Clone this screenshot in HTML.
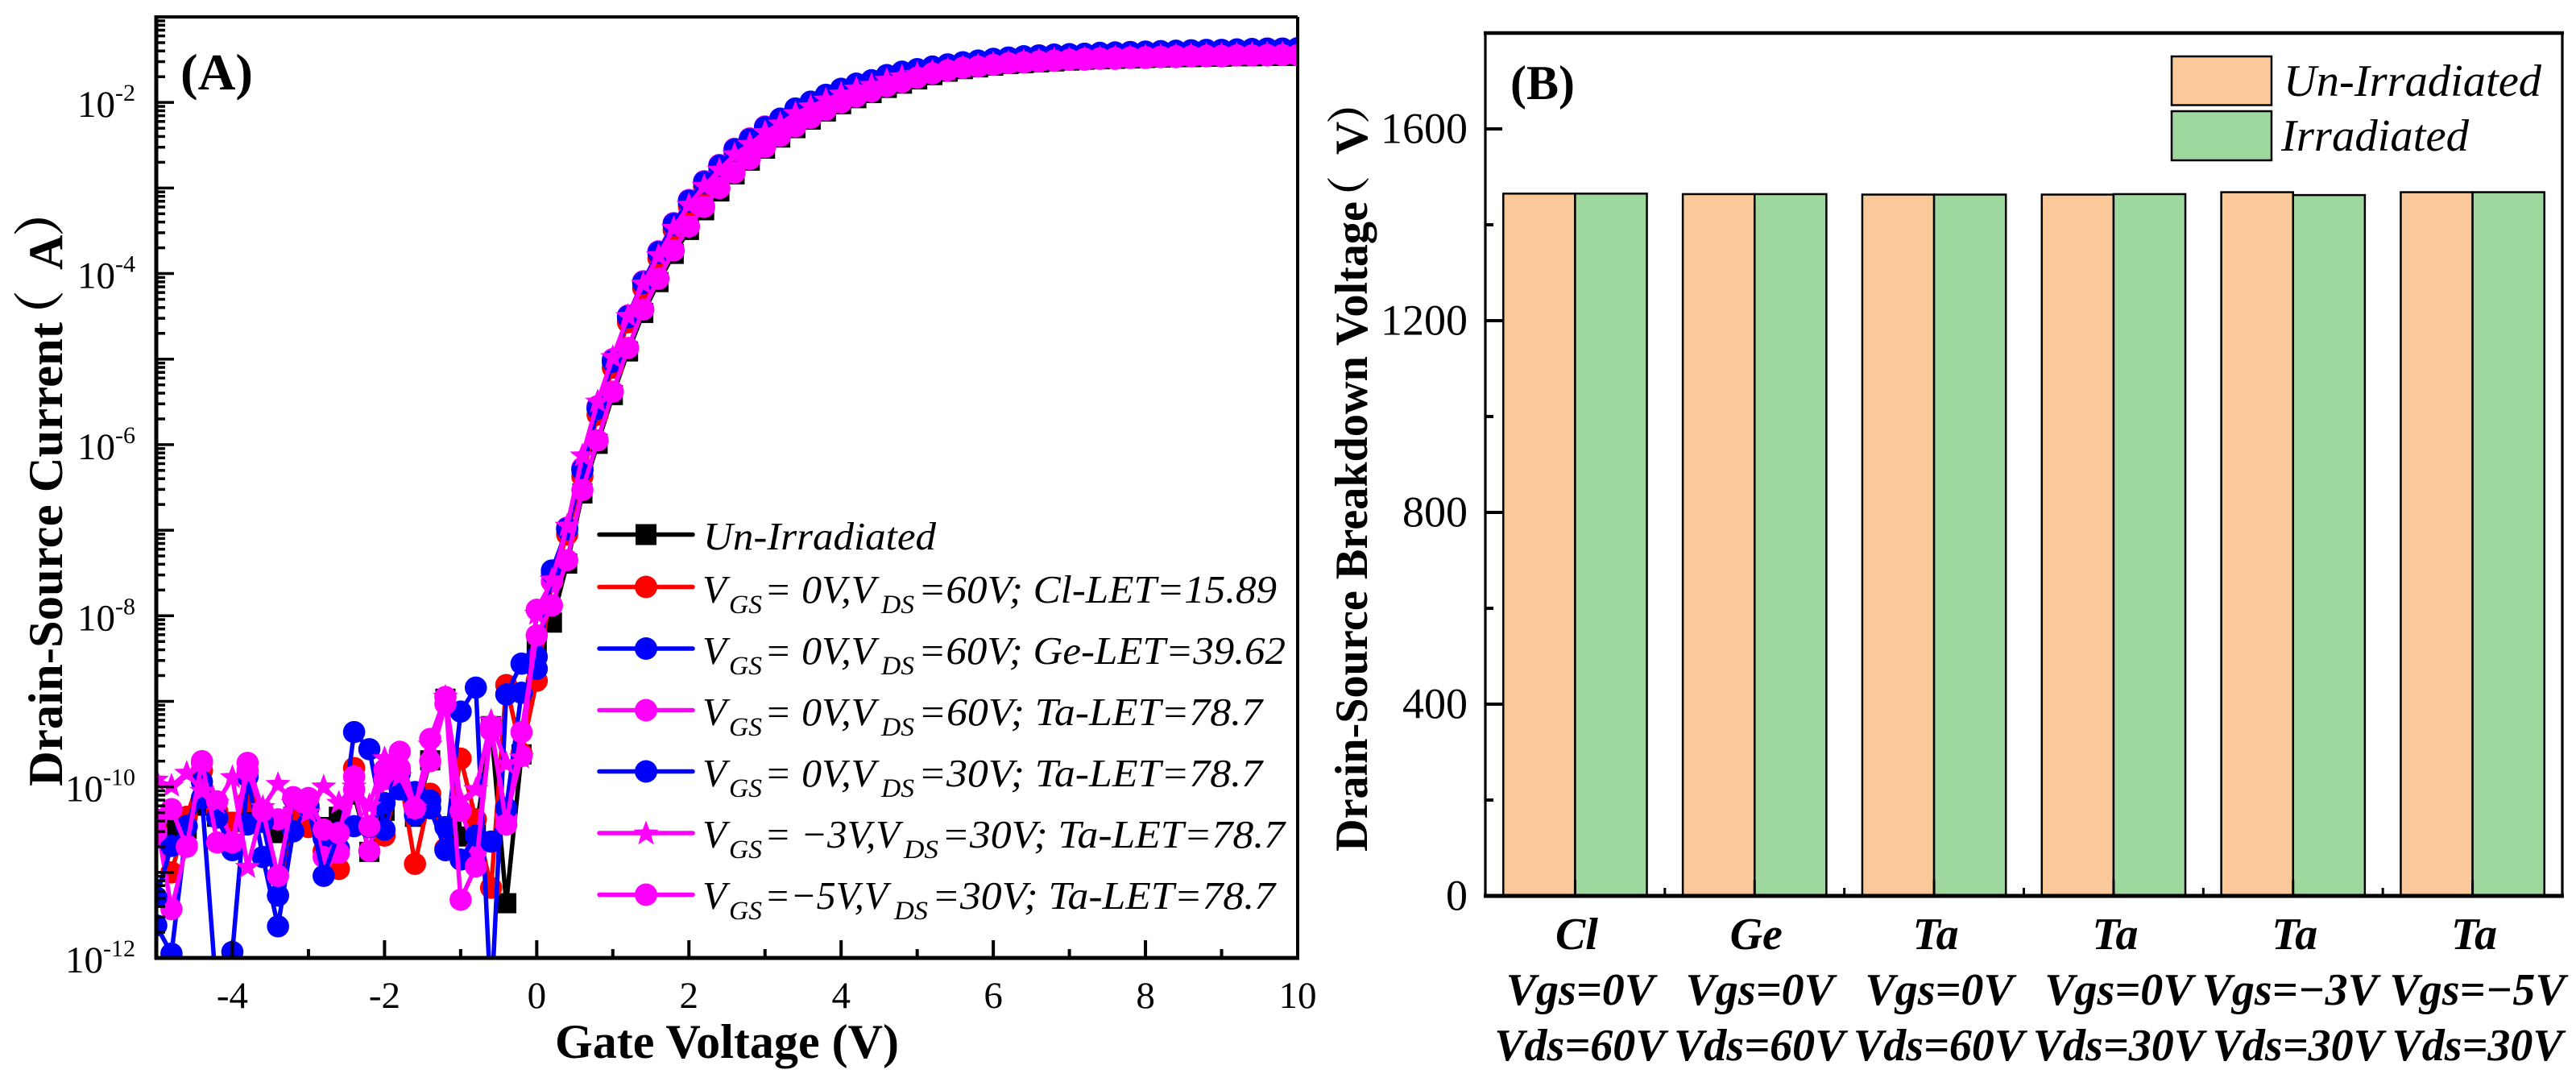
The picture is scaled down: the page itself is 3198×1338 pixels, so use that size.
<!DOCTYPE html>
<html lang="en">
<head>
<meta charset="utf-8">
<title>Drain-source current and breakdown voltage</title>
<style>
html,body{margin:0;padding:0;background:#fff}
svg{display:block}
text{font-family:"Liberation Serif","Noto Serif CJK SC",serif;fill:#000}
.tick{font-size:47px}
.ti{font-weight:bold}
.lg{font-size:49px;font-style:italic}
.sb{font-size:33px;font-style:italic}
.cat{font-size:56px;font-weight:bold;font-style:italic;text-anchor:middle}
</style>
</head>
<body>
<svg id="fig" xmlns="http://www.w3.org/2000/svg" width="3198" height="1338" viewBox="0 0 3198 1338">
<rect width="3198" height="1338" fill="#fff"/>
<defs><clipPath id="clipA"><rect x="194" y="21" width="1417" height="1168"/></clipPath></defs>

<g id="panelA">
  <g id="marksA" clip-path="url(#clipA)"></g>
  <g id="axesA"></g>
  <text class="ti" x="224" y="111" font-size="64" textLength="90" lengthAdjust="spacingAndGlyphs">(A)</text>
  <text class="ti" x="689" y="1313" font-size="60" textLength="427" lengthAdjust="spacingAndGlyphs">Gate Voltage (V)</text>
  <g>
    <text class="ti" font-size="60" transform="translate(77 976) rotate(-90)" textLength="576" lengthAdjust="spacingAndGlyphs">Drain-Source Current</text>
    <text class="ti" font-size="64" transform="translate(72 424) rotate(-90)">（</text>
    <text class="ti" font-size="60" transform="translate(77 335) rotate(-90)">A</text>
    <text class="ti" font-size="64" transform="translate(72 294) rotate(-90)">）</text>
  </g>

  <g id="legendA">
    <g>
      <line x1="744" x2="860" y1="663.5" y2="663.5" stroke="#000" stroke-width="5.5" stroke-linecap="round"/>
      <rect x="789" y="650.5" width="26" height="26" fill="#000"/>
      <text class="lg" x="873" y="682" textLength="289" lengthAdjust="spacingAndGlyphs">Un-Irradiated</text>
    </g>
    <g>
      <line x1="744" x2="860" y1="728.5" y2="728.5" stroke="#f00" stroke-width="5.5" stroke-linecap="round"/>
      <circle cx="802" cy="728.5" r="14" fill="#f00"/>
      <text class="lg" x="872" y="748">V</text><text class="sb" x="905" y="761" textLength="41" lengthAdjust="spacingAndGlyphs">GS</text>
      <text class="lg" x="949" y="748" textLength="138" lengthAdjust="spacingAndGlyphs">= 0V,V</text><text class="sb" x="1094" y="761" textLength="41" lengthAdjust="spacingAndGlyphs">DS</text>
      <text class="lg" x="1140" y="748" textLength="445" lengthAdjust="spacingAndGlyphs">=60V; Cl-LET=15.89</text>
    </g>
    <g>
      <line x1="744" x2="860" y1="805" y2="805" stroke="#00f" stroke-width="5.5" stroke-linecap="round"/>
      <circle cx="802" cy="805" r="14" fill="#00f"/>
      <text class="lg" x="872" y="824">V</text><text class="sb" x="905" y="837" textLength="41" lengthAdjust="spacingAndGlyphs">GS</text>
      <text class="lg" x="949" y="824" textLength="138" lengthAdjust="spacingAndGlyphs">= 0V,V</text><text class="sb" x="1094" y="837" textLength="41" lengthAdjust="spacingAndGlyphs">DS</text>
      <text class="lg" x="1140" y="824" textLength="456" lengthAdjust="spacingAndGlyphs">=60V; Ge-LET=39.62</text>
    </g>
    <g>
      <line x1="744" x2="860" y1="881.5" y2="881.5" stroke="#f0f" stroke-width="5.5" stroke-linecap="round"/>
      <circle cx="802" cy="881.5" r="14" fill="#f0f"/>
      <text class="lg" x="872" y="900">V</text><text class="sb" x="905" y="913" textLength="41" lengthAdjust="spacingAndGlyphs">GS</text>
      <text class="lg" x="949" y="900" textLength="138" lengthAdjust="spacingAndGlyphs">= 0V,V</text><text class="sb" x="1094" y="913" textLength="41" lengthAdjust="spacingAndGlyphs">DS</text>
      <text class="lg" x="1140" y="900" textLength="427" lengthAdjust="spacingAndGlyphs">=60V; Ta-LET=78.7</text>
    </g>
    <g>
      <line x1="744" x2="860" y1="957.5" y2="957.5" stroke="#00f" stroke-width="5.5" stroke-linecap="round"/>
      <circle cx="802" cy="957.5" r="14" fill="#00f"/>
      <text class="lg" x="872" y="976">V</text><text class="sb" x="905" y="989" textLength="41" lengthAdjust="spacingAndGlyphs">GS</text>
      <text class="lg" x="949" y="976" textLength="138" lengthAdjust="spacingAndGlyphs">= 0V,V</text><text class="sb" x="1094" y="989" textLength="41" lengthAdjust="spacingAndGlyphs">DS</text>
      <text class="lg" x="1140" y="976" textLength="427" lengthAdjust="spacingAndGlyphs">=30V; Ta-LET=78.7</text>
    </g>
    <g>
      <line x1="744" x2="860" y1="1034" y2="1034" stroke="#f0f" stroke-width="5.5" stroke-linecap="round"/>
      <polygon id="legendStar" fill="#f0f"/>
      <text class="lg" x="872" y="1052">V</text><text class="sb" x="905" y="1065" textLength="41" lengthAdjust="spacingAndGlyphs">GS</text>
      <text class="lg" x="949" y="1052" textLength="168" lengthAdjust="spacingAndGlyphs">= −3V,V</text><text class="sb" x="1122" y="1065" textLength="43" lengthAdjust="spacingAndGlyphs">DS</text>
      <text class="lg" x="1169" y="1052" textLength="426" lengthAdjust="spacingAndGlyphs">=30V; Ta-LET=78.7</text>
    </g>
    <g>
      <line x1="744" x2="860" y1="1110.5" y2="1110.5" stroke="#f0f" stroke-width="5.5" stroke-linecap="round"/>
      <circle cx="802" cy="1110.5" r="14" fill="#f0f"/>
      <text class="lg" x="872" y="1128">V</text><text class="sb" x="905" y="1141" textLength="41" lengthAdjust="spacingAndGlyphs">GS</text>
      <text class="lg" x="949" y="1128" textLength="153" lengthAdjust="spacingAndGlyphs">=−5V,V</text><text class="sb" x="1110" y="1141" textLength="42" lengthAdjust="spacingAndGlyphs">DS</text>
      <text class="lg" x="1157" y="1128" textLength="426" lengthAdjust="spacingAndGlyphs">=30V; Ta-LET=78.7</text>
    </g>
  </g>
</g>

<g id="panelB">
  <g id="marksB"></g>
  <g id="axesB"></g>
  <text class="ti" x="1875" y="123" font-size="60" textLength="80" lengthAdjust="spacingAndGlyphs">(B)</text>
  <g>
    <text class="ti" font-size="57" transform="translate(1697 1057) rotate(-90)" textLength="807" lengthAdjust="spacingAndGlyphs">Drain-Source Breakdown Voltage</text>
    <text class="ti" font-size="54" transform="translate(1694 272) rotate(-90)">（</text>
    <text class="ti" font-size="57" transform="translate(1697 192) rotate(-90)">V</text>
    <text class="ti" font-size="54" transform="translate(1694 154) rotate(-90)">）</text>
  </g>
  <g>
    <g>
      <rect x="2696" y="70" width="124" height="60.5" fill="#FBC999" stroke="#000" stroke-width="2.5"/>
      <text x="2835" y="119" font-size="56" font-style="italic" textLength="320" lengthAdjust="spacingAndGlyphs">Un-Irradiated</text>
    </g>
    <g>
      <rect x="2696" y="138" width="124" height="61" fill="#9FD89F" stroke="#000" stroke-width="2.5"/>
      <text x="2832" y="187" font-size="56" font-style="italic" textLength="233" lengthAdjust="spacingAndGlyphs">Irradiated</text>
    </g>
  </g>
</g>
</svg>

<script>
/* Panel A data: x = gate voltage (V), series = log10 of drain-source current (A) */
const gateVoltage = [-5,-4.8,-4.6,-4.4,-4.2,-4,-3.8,-3.6,-3.4,-3.2,-3,-2.8,-2.6,-2.4,-2.2,-2,-1.8,-1.6,-1.4,-1.2,-1,-0.8,-0.6,-0.4,-0.2,0,0.2,0.4,0.6,0.8,1,1.2,1.4,1.6,1.8,2,2.2,2.4,2.6,2.8,3,3.2,3.4,3.6,3.8,4,4.2,4.4,4.6,4.8,5,5.2,5.4,5.6,5.8,6,6.2,6.4,6.6,6.8,7,7.2,7.4,7.6,7.8,8,8.2,8.4,8.6,8.8,9,9.2,9.4,9.6,9.8,10];
const unIrradiated = [-10.50,-10.47,-10.49,-10.22,-10.35,-10.41,-10.28,-10.38,-10.54,-10.35,-10.38,-10.47,-10.35,-10.09,-10.76,-10.28,-10.03,-10.35,-9.69,-8.97,-10.58,-10.53,-9.29,-11.36,-9.62,-8.34,-8.08,-7.39,-6.57,-5.99,-5.42,-4.91,-4.46,-4.10,-3.77,-3.49,-3.26,-3.04,-2.84,-2.68,-2.54,-2.41,-2.30,-2.20,-2.105,-2.02,-1.95,-1.89,-1.83,-1.78,-1.73,-1.68,-1.64,-1.61,-1.59,-1.57,-1.55,-1.54,-1.53,-1.52,-1.51,-1.50,-1.495,-1.49,-1.485,-1.48,-1.475,-1.47,-1.47,-1.465,-1.465,-1.46,-1.46,-1.455,-1.455,-1.455];
const clLet60V = [-10.50,-11.00,-10.35,-9.81,-10.28,-10.42,-10.17,-10.35,-11.27,-10.35,-10.47,-10.75,-10.96,-9.78,-10.47,-10.57,-9.84,-10.90,-10.08,-10.72,-9.67,-10.38,-11.18,-8.81,-9.61,-8.76,-7.60,-7.05,-6.37,-5.65,-5.10,-4.57,-4.17,-3.82,-3.49,-3.21,-2.99,-2.80,-2.61,-2.49,-2.35,-2.25,-2.13,-2.05,-1.97,-1.90,-1.84,-1.80,-1.74,-1.70,-1.67,-1.63,-1.60,-1.58,-1.56,-1.54,-1.52,-1.51,-1.50,-1.49,-1.48,-1.48,-1.47,-1.46,-1.46,-1.45,-1.45,-1.44,-1.44,-1.43,-1.43,-1.43,-1.42,-1.42,-1.42,-1.41];
const geLet60V = [-11.62,-11.95,-10.46,-10.13,-12.51,-11.93,-9.88,-10.82,-11.63,-10.52,-10.22,-10.60,-10.72,-9.36,-9.56,-10.50,-9.84,-10.06,-10.25,-10.74,-9.12,-8.84,-12.57,-8.92,-8.56,-8.48,-7.47,-6.99,-6.30,-5.58,-5.03,-4.51,-4.11,-3.76,-3.43,-3.16,-2.94,-2.75,-2.56,-2.44,-2.30,-2.20,-2.08,-2.00,-1.92,-1.85,-1.79,-1.75,-1.69,-1.65,-1.62,-1.59,-1.565,-1.54,-1.52,-1.50,-1.485,-1.47,-1.46,-1.45,-1.445,-1.44,-1.43,-1.425,-1.42,-1.415,-1.41,-1.405,-1.40,-1.395,-1.395,-1.39,-1.385,-1.38,-1.38,-1.375];
const taLet60V = [-10.38,-11.43,-10.68,-9.72,-10.17,-10.66,-9.81,-10.30,-10.38,-10.13,-10.25,-10.82,-10.77,-10.03,-10.75,-9.91,-9.78,-10.24,-9.70,-9.03,-10.28,-10.75,-9.34,-10.35,-9.64,-7.93,-7.60,-6.97,-6.27,-5.55,-5.00,-4.49,-4.09,-3.74,-3.41,-3.14,-2.92,-2.73,-2.54,-2.42,-2.28,-2.19,-2.08,-2.00,-1.93,-1.87,-1.81,-1.78,-1.72,-1.69,-1.66,-1.63,-1.61,-1.59,-1.57,-1.55,-1.54,-1.53,-1.52,-1.51,-1.50,-1.50,-1.49,-1.49,-1.48,-1.48,-1.47,-1.47,-1.46,-1.46,-1.46,-1.45,-1.45,-1.45,-1.44,-1.44];
const taLet30V = [-11.29,-10.69,-10.46,-9.94,-10.36,-10.74,-10.44,-10.41,-11.27,-10.13,-10.24,-11.04,-10.53,-10.46,-10.47,-10.19,-10.03,-10.33,-10.16,-10.47,-10.85,-10.57,-10.64,-10.25,-8.90,-8.62,-7.50,-6.98,-6.29,-5.57,-5.02,-4.50,-4.10,-3.75,-3.42,-3.15,-2.93,-2.74,-2.55,-2.43,-2.29,-2.19,-2.07,-1.99,-1.91,-1.84,-1.78,-1.74,-1.68,-1.64,-1.61,-1.58,-1.555,-1.53,-1.51,-1.49,-1.475,-1.46,-1.45,-1.44,-1.435,-1.43,-1.42,-1.415,-1.41,-1.405,-1.40,-1.395,-1.39,-1.385,-1.385,-1.38,-1.375,-1.37,-1.37,-1.365];
const taLetMinus3V = [-9.92,-9.99,-9.84,-10.05,-10.19,-9.89,-10.94,-10.24,-9.97,-10.19,-10.30,-10.00,-10.19,-10.00,-10.22,-9.67,-9.88,-10.25,-9.51,-8.95,-10.16,-10.03,-9.23,-9.73,-9.66,-7.98,-7.58,-6.95,-6.13,-5.50,-4.98,-4.50,-4.12,-3.79,-3.47,-3.20,-2.98,-2.79,-2.61,-2.49,-2.35,-2.25,-2.13,-2.05,-1.97,-1.90,-1.84,-1.80,-1.74,-1.70,-1.67,-1.64,-1.62,-1.59,-1.57,-1.55,-1.535,-1.52,-1.51,-1.50,-1.495,-1.49,-1.48,-1.475,-1.47,-1.465,-1.46,-1.455,-1.45,-1.445,-1.445,-1.44,-1.435,-1.43,-1.43,-1.425];
const taLetMinus5V = [-10.53,-10.26,-10.70,-9.70,-10.65,-10.65,-9.72,-10.28,-11.04,-10.12,-10.13,-10.50,-10.54,-9.88,-10.46,-9.80,-9.59,-10.25,-9.44,-8.95,-11.32,-10.93,-9.29,-10.44,-9.36,-8.23,-7.88,-7.35,-6.53,-5.95,-5.38,-4.87,-4.42,-4.06,-3.73,-3.45,-3.22,-3.00,-2.82,-2.66,-2.52,-2.39,-2.28,-2.18,-2.085,-2.00,-1.93,-1.87,-1.81,-1.76,-1.71,-1.66,-1.625,-1.595,-1.58,-1.56,-1.54,-1.53,-1.52,-1.51,-1.50,-1.49,-1.485,-1.48,-1.475,-1.47,-1.465,-1.46,-1.46,-1.455,-1.455,-1.45,-1.45,-1.445,-1.445,-1.445];

const xTickValues = [-5,-4,-3,-2,-1,0,1,2,3,4,5,6,7,8,9,10];
const xTickLabels = ["","-4","","-2","","0","","2","","4","","6","","8","","10"];
const yDecades = [-12,-11,-10,-9,-8,-7,-6,-5,-4,-3,-2,-1];
const yDecadeLabels = ["-12","","-10","","-8","","-6","","-4","","-2",""];
const yMinorFactors = [2,3,4,5,6,7,8,9];

/* Panel B data */
const categoriesIon = ["Cl","Ge","Ta","Ta","Ta","Ta"];
const categoriesVgs = ["Vgs=0V","Vgs=0V","Vgs=0V","Vgs=0V","Vgs=−3V","Vgs=−5V"];
const categoriesVds = ["Vds=60V","Vds=60V","Vds=60V","Vds=30V","Vds=30V","Vds=30V"];
const unIrradiatedBreakdown = [1465,1464,1463,1463,1468,1468];
const irradiatedBreakdown = [1465,1464,1463,1464,1462,1468];
const bTickValues = [0,400,800,1200,1600];
const bMinorValues = [200,600,1000,1400,1800];

const NS = "http://www.w3.org/2000/svg";
function mk(tag, parent, attrs, txt){
  const e = document.createElementNS(NS, tag);
  for (const k in attrs) e.setAttribute(k, attrs[k]);
  if (txt !== undefined) e.textContent = txt;
  parent.appendChild(e);
  return e;
}

/* Panel A scales */
const ax = {l:194, r:1611, t:21, b:1189};
function xA(v){ return ax.l + (v + 5) / 15 * (ax.r - ax.l); }
function yA(lg){ return ax.b - (lg + 12) / 11 * (ax.b - ax.t); }

function starPoints(cx, cy, R){
  const p = [], r = R * 0.42;
  for (let k = 0; k < 10; k++){
    const a = -Math.PI / 2 + k * Math.PI / 5, q = k % 2 ? r : R;
    p.push((cx + q * Math.cos(a)).toFixed(1) + "," + (cy + q * Math.sin(a)).toFixed(1));
  }
  return p.join(" ");
}
document.getElementById("legendStar").setAttribute("points", starPoints(802, 1035, 16.5));

const seriesList = [
  {name:"un-irradiated", vals:unIrradiated, color:"#000", marker:"square"},
  {name:"cl-let-60v", vals:clLet60V, color:"#f00", marker:"circle"},
  {name:"ge-let-60v", vals:geLet60V, color:"#00f", marker:"circle"},
  {name:"ta-let-60v", vals:taLet60V, color:"#f0f", marker:"circle"},
  {name:"ta-let-30v", vals:taLet30V, color:"#00f", marker:"circle"},
  {name:"ta-let-minus-3v", vals:taLetMinus3V, color:"#f0f", marker:"star"},
  {name:"ta-let-minus-5v", vals:taLetMinus5V, color:"#f0f", marker:"circle"}
];
const marksA = document.getElementById("marksA");
seriesList.forEach(function(s){
  const g = mk("g", marksA, {});
  
  
  const pts = s.vals.map(function(v, i){ return xA(gateVoltage[i]).toFixed(1) + "," + yA(v).toFixed(1); }).join(" ");
  const line = mk("polyline", g, {points:pts, fill:"none", stroke:s.color, "stroke-width":5.5, "stroke-linejoin":"round"});
  
  
  s.vals.forEach(function(v, i){
    const cx = xA(gateVoltage[i]), cy = yA(v);
    let m;
    if (s.marker === "square") m = mk("rect", g, {x:cx - 12.5, y:cy - 12.5, width:25, height:25, fill:s.color});
    else if (s.marker === "star") m = mk("polygon", g, {points:starPoints(cx, cy, 16.5), fill:s.color});
    else m = mk("circle", g, {cx:cx, cy:cy, r:13.8, fill:s.color});
    
    
  });
});

/* Panel A axes */
const axesA = document.getElementById("axesA");
xTickValues.forEach(function(v, i){
  const major = i % 2 === 1 || v === 10;
  const t = mk("line", axesA, {x1:xA(v), x2:xA(v), y1:ax.b, y2:ax.b - (major ? 22 : 11), stroke:"#000", "stroke-width":4});
  
  
  if (xTickLabels[i]){
    const l = mk("text", axesA, {x:xA(v), y:1251, class:"tick", "text-anchor":"middle"}, xTickLabels[i]);
    
    
  }
});
yDecades.forEach(function(d, i){
  const y = yA(d);
  const t = mk("line", axesA, {x1:ax.l, x2:ax.l + 22, y1:y, y2:y, stroke:"#000", "stroke-width":3.5});
  
  
  if (d < -1) yMinorFactors.forEach(function(f){
    const ym = yA(d + Math.log10(f));
    const mt = mk("line", axesA, {x1:ax.l, x2:ax.l + 11, y1:ym, y2:ym, stroke:"#000", "stroke-width":3.5});
    
    
  });
  if (yDecadeLabels[i]){
    const l = mk("text", axesA, {x:168, y:y + 18, class:"tick", "text-anchor":"end"});
    
    
    mk("tspan", l, {}, "10");
    mk("tspan", l, {dy:-20, "font-size":30}, yDecadeLabels[i]);
  }
});
const frameA = mk("path", axesA, {d:"M192 21H1611M1611 21V1189", fill:"none", stroke:"#000", "stroke-width":4});


const axisAL = mk("line", axesA, {x1:194, x2:194, y1:19, y2:1191, stroke:"#000", "stroke-width":5});


const axisAB = mk("line", axesA, {x1:192, x2:1613, y1:1189, y2:1189, stroke:"#000", "stroke-width":5});



/* Panel B scales */
const bx = {l:1844, r:3181, t:41, b:1112};
const catW = (bx.r - bx.l) / categoriesIon.length;
const barW = catW * 0.4;
function xB(i){ return bx.l + catW * (i + 0.5); }
function yB(v){ return bx.b - v / 1800 * (bx.b - bx.t); }

const marksB = document.getElementById("marksB");
categoriesIon.forEach(function(c, i){
  const a = mk("rect", marksB, {x:xB(i) - barW, y:yB(unIrradiatedBreakdown[i]), width:barW, height:bx.b - yB(unIrradiatedBreakdown[i]), fill:"#FBC999", stroke:"#000", "stroke-width":2.5});
  
  
  const b = mk("rect", marksB, {x:xB(i), y:yB(irradiatedBreakdown[i]), width:barW, height:bx.b - yB(irradiatedBreakdown[i]), fill:"#9FD89F", stroke:"#000", "stroke-width":2.5});
  
  
});

const axesB = document.getElementById("axesB");
categoriesIon.forEach(function(c, i){
  const x = xB(i);
  const t = mk("line", axesB, {x1:x, x2:x, y1:bx.b, y2:bx.b - 20, stroke:"#000", "stroke-width":3});
  
  
  if (i > 0){
    const mt = mk("line", axesB, {x1:x - catW / 2, x2:x - catW / 2, y1:bx.b, y2:bx.b - 10, stroke:"#000", "stroke-width":3});
    
    
  }
  const l1 = mk("text", axesB, {x:x + 2, y:1178, class:"cat"}, categoriesIon[i]);
  
  
  const l2 = mk("text", axesB, {x:x + (i === 4 ? -4 : (i === 5 ? 6 : 6.5)), y:1247, class:"cat"}, categoriesVgs[i]);
  
  
  const l3 = mk("text", axesB, {x:x + 6, y:1316, class:"cat"}, categoriesVds[i]);
  
  
});
bTickValues.forEach(function(v){
  const y = yB(v);
  const t = mk("line", axesB, {x1:bx.l, x2:bx.l + 21, y1:y, y2:y, stroke:"#000", "stroke-width":4});
  
  
  const l = mk("text", axesB, {x:1822, y:y + 17.5, "font-size":54, "text-anchor":"end"}, String(v));
  
  
});
bMinorValues.forEach(function(v){
  const y = yB(v);
  const t = mk("line", axesB, {x1:bx.l, x2:bx.l + 10, y1:y, y2:y, stroke:"#000", "stroke-width":4});
  
  
});
const frameB = mk("path", axesB, {d:"M1844 41V1112M3181 41V1112", fill:"none", stroke:"#000", "stroke-width":3.2});


const topB = mk("line", axesB, {x1:1842, x2:3183, y1:41, y2:41, stroke:"#000", "stroke-width":4.5});


const botB = mk("line", axesB, {x1:1842, x2:3183, y1:1112, y2:1112, stroke:"#000", "stroke-width":5});


</script>
</body>
</html>
